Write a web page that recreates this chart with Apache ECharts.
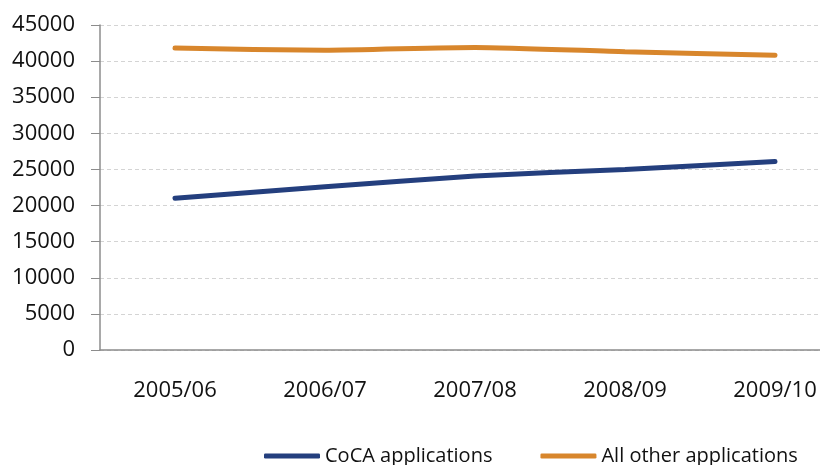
<!DOCTYPE html>
<html>
<head>
<meta charset="utf-8">
<script src="https://cdn.jsdelivr.net/npm/echarts@6/dist/echarts.min.js"></script>
<style>
html, body { margin: 0; padding: 0; background: #fff; }
#main { width: 820px; height: 465px; }
</style>
</head>
<body>
<div id="main"></div>
<script>
var years = ['2005/06', '2006/07', '2007/08', '2008/09', '2009/10'];
var cocaApps = [21000, 22600, 24100, 25000, 26100];
var otherApps = [41800, 41500, 41900, 41300, 40800];
var seriesNames = ['CoCA applications', 'All other applications'];

var chart = echarts.init(document.getElementById('main'));
var font = '"Open Sans", sans-serif';

chart.setOption({
    animation: false,
    backgroundColor: '#fff',
    grid: { left: 100, top: 25, width: 750, height: 325, outerBoundsMode: 'none', containLabel: false },
    legend: {
        data: seriesNames,
        left: 259,
        top: 441,
        itemWidth: 56,
        itemHeight: 5,
        itemGap: 48,
        icon: 'roundRect',
        textStyle: { fontFamily: font, fontSize: 20, color: '#111' }
    },
    xAxis: {
        type: 'category',
        data: years,
        boundaryGap: true,
        axisLine: { lineStyle: { color: '#8c8c8c', width: 1.5 } },
        axisTick: { show: false },
        axisLabel: { fontFamily: font, fontSize: 22, color: '#111', margin: 30 }
    },
    yAxis: {
        type: 'value',
        min: 0,
        max: 45000,
        interval: 5000,
        axisLine: { show: true, lineStyle: { color: '#8c8c8c', width: 1.5 } },
        axisTick: { show: true, length: 9, lineStyle: { color: '#8c8c8c' } },
        axisLabel: {
            fontFamily: font, fontSize: 22, color: '#111', margin: 25,
            formatter: function (v) { return String(v); }
        },
        splitLine: { lineStyle: { color: '#d4d4d4', type: [4, 3] } }
    },
    series: [
        {
            name: seriesNames[0],
            type: 'line',
            data: cocaApps,
            showSymbol: false,
            smooth: 0.2,
            color: '#243f7e',
            lineStyle: { width: 5, cap: 'round' }
        },
        {
            name: seriesNames[1],
            type: 'line',
            data: otherApps,
            showSymbol: false,
            smooth: 0.2,
            color: '#d8862c',
            lineStyle: { width: 5, cap: 'round' }
        }
    ]
});
</script>
</body>
</html>
